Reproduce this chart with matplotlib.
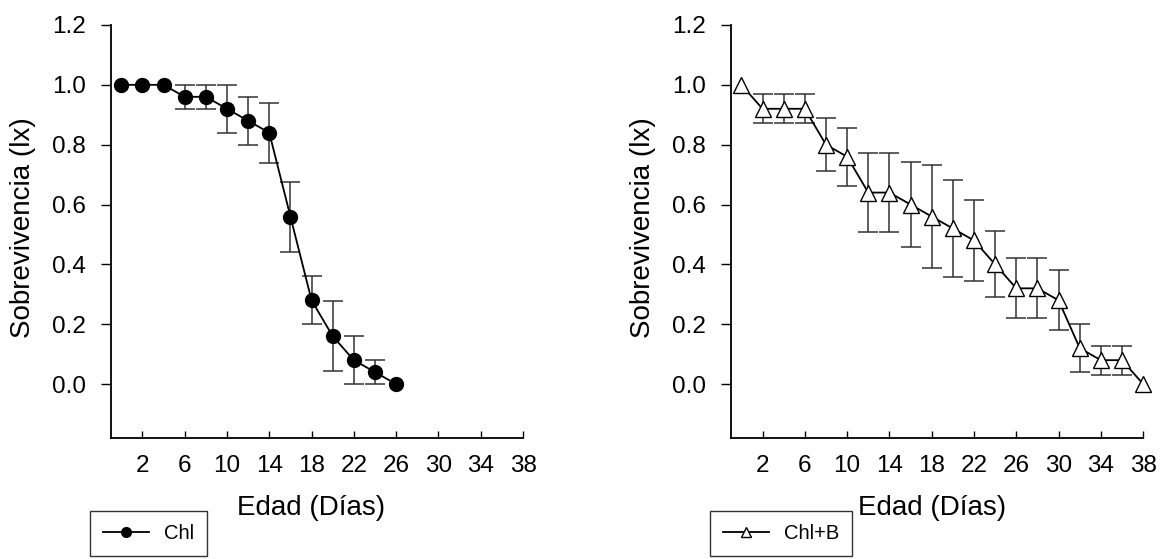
import numpy as np
import matplotlib
matplotlib.use("Agg")
import matplotlib.pyplot as plt

plt.rcParams['font.family'] = ['Liberation Sans', 'DejaVu Sans']

# Chl
dias_chl = [0, 2, 4, 6, 8, 10, 12, 14, 16, 18, 20, 22, 24, 26]
lx_chl = [1.0, 1.0, 1.0, 0.96, 0.96, 0.92, 0.88, 0.84, 0.56, 0.28, 0.16, 0.08, 0.04, 0.0]
err_chl = [0, 0, 0, 0.04, 0.04, 0.08, 0.08, 0.10, 0.117, 0.08, 0.117, 0.08, 0.04, 0]

# Chl+B
dias_chlb = [0, 2, 4, 6, 8, 10, 12, 14, 16, 18, 20, 22, 24, 26, 28, 30, 32, 34, 36, 38]
lx_chlb = [1.0, 0.92, 0.92, 0.92, 0.80, 0.76, 0.64, 0.64, 0.60, 0.56,
           0.52, 0.48, 0.40, 0.32, 0.32, 0.28, 0.12, 0.08, 0.08, 0.0]
err_chlb = [0, 0.048, 0.048, 0.048, 0.089, 0.097, 0.132, 0.132, 0.141, 0.171,
            0.163, 0.135, 0.11, 0.10, 0.10, 0.10, 0.08, 0.049, 0.049, 0]

xticks = [2, 6, 10, 14, 18, 22, 26, 30, 34, 38]
yticks = [0.0, 0.2, 0.4, 0.6, 0.8, 1.0, 1.2]

fig = plt.figure(figsize=(11.6, 5.59), dpi=100)
ax1 = fig.add_axes([0.0954, 0.2165, 0.3555, 0.7388])
ax2 = fig.add_axes([0.630, 0.2165, 0.3555, 0.7388])


def panel(ax, x, y, e, marker, face, label):
    # drop zero error bars
    e = np.array(e)
    m = e > 0
    ax.errorbar(np.array(x)[m], np.array(y)[m], yerr=e[m], fmt='none',
                ecolor='#333333', elinewidth=1.1, capsize=7, capthick=1.1, zorder=2)
    ln, = ax.plot(x, y, color='black', lw=1.3, marker=marker, markersize=10 if marker == 'o' else 11,
                  markerfacecolor=face, markeredgecolor='black', markeredgewidth=1.0,
                  label=label, zorder=3, clip_on=False)
    ax.set_xlim(-1, 38)
    ax.set_ylim(-0.18, 1.2)
    ax.set_xticks(xticks)
    ax.set_yticks(yticks)
    ax.set_yticklabels([f"{v:.1f}" for v in yticks])
    ax.spines['top'].set_visible(False)
    ax.spines['right'].set_visible(False)
    ax.spines['left'].set_linewidth(1.3)
    ax.spines['bottom'].set_linewidth(1.3)
    ax.tick_params(axis='y', direction='out', length=7, width=1, labelsize=17.5, pad=11)
    ax.tick_params(axis='x', direction='in', length=5, width=1, labelsize=17.5, pad=12)
    ax.set_xlabel("Edad (Días)", fontsize=20)
    ax.set_ylabel("Sobrevivencia (lx)", fontsize=20)
    ax.xaxis.set_label_coords(0.487, -0.137)
    ax.yaxis.set_label_coords(-0.182, 0.51)
    return ln


l1 = panel(ax1, dias_chl, lx_chl, err_chl, 'o', 'black', 'Chl')
l2 = panel(ax2, dias_chlb, lx_chlb, err_chlb, '^', 'white', 'Chl+B')

for ln, anchor in [(l1, (90 / 1160, 1 - 510.7 / 559)), (l2, (710 / 1160, 1 - 510.7 / 559))]:
    leg = fig.legend(handles=[ln], loc='upper left', bbox_to_anchor=anchor,
                     fontsize=14.5, frameon=True, fancybox=False, edgecolor='black',
                     handlelength=2.3, borderpad=0.65, handletextpad=0.7,
                     markerscale=0.7, borderaxespad=0)
    leg.get_frame().set_linewidth(1.0)

fig.savefig("out.png", dpi=100)
